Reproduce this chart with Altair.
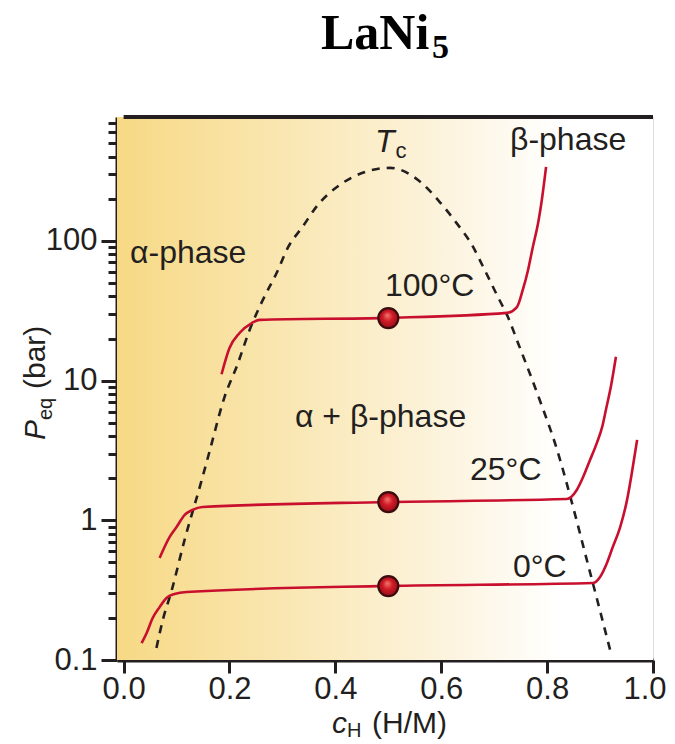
import altair as alt
import pandas as pd

# ---------------- data ----------------
dome_x = [0.062, 0.074, 0.091, 0.115, 0.146, 0.163, 0.19, 0.215, 0.238, 0.263, 0.289,
          0.310, 0.338, 0.367, 0.408, 0.456, 0.503, 0.556, 0.594, 0.629, 0.658, 0.682,
          0.707, 0.726, 0.745, 0.786, 0.819, 0.849, 0.875, 0.902, 0.919]
dome_p = [0.122, 0.193, 0.317, 0.72, 1.85, 3.18, 7.5, 13, 23, 37.8, 58.9,
          89, 126, 181, 251, 311, 333, 273, 196, 134, 93.5, 61.9,
          39.7, 28.5, 18.6, 7.26, 3.18, 1.245, 0.52, 0.21, 0.118]

iso100_x = [0.185, 0.200, 0.219, 0.242, 0.257, 0.497, 0.724, 0.743, 0.754, 0.764,
            0.773, 0.783, 0.790, 0.798]
iso100_p = [11.1, 17.1, 21.9, 25.8, 27.2, 28.1, 30.5, 33.6, 44.5, 61.9,
            90.4, 134, 196, 338]

iso25_x = [0.068, 0.087, 0.100, 0.115, 0.130, 0.149, 0.499, 0.837, 0.856, 0.868,
           0.881, 0.894, 0.904, 0.911, 0.921, 0.930]
iso25_p = [0.537, 0.76, 0.895, 1.09, 1.186, 1.245, 1.352, 1.42, 1.648, 2.04,
           2.70, 3.58, 4.66, 6.16, 9.3, 14.8]

iso0_x = [0.034, 0.0435, 0.055, 0.068, 0.081, 0.096, 0.119, 0.499, 0.887, 0.900,
          0.913, 0.924, 0.938, 0.951, 0.960, 0.970]
iso0_p = [0.132, 0.156, 0.2, 0.239, 0.278, 0.297, 0.307, 0.339, 0.356, 0.393,
          0.495, 0.644, 0.895, 1.40, 2.18, 3.76]

dot_x = [0.5, 0.5, 0.5]
dot_p = [28.0, 1.35, 0.338]

x_ticks = [0.0, 0.2, 0.4, 0.6, 0.8, 1.0]
major_y = [0.1, 1, 10, 100]
y_ticks = [float(f"{m}e{e}") for e in (-1, 0, 1) for m in range(1, 10)] + \
          [float(f"{m}e2") for m in range(1, 8)]

# annotation labels
ann_text = ["α-phase", "β-phase", "100°C", "α + β-phase", "25°C", "0°C"]
ann_x = [0.0121, 0.7299, 0.4938, 0.3237, 0.6543, 0.7355]
ann_y = [69.5, 448, 40.4, 4.66, 1.94, 0.393]

# ---------------- styles ----------------
INK = "#231f20"
RED = "#c8102e"
SANS = "Liberation Sans"
SERIF = "Liberation Serif"
W, H = 536, 543
XDOM = [-0.0125, 1.0]
YDOM = [0.1, 770]

is_major = "indexof([0.1,1,10,100], datum.value) >= 0"
is_last_x = "datum.value == 1"

x_scale = alt.Scale(domain=XDOM, nice=False, zero=False)
y_scale = alt.Scale(type="log", domain=YDOM, nice=False)
x_axis = alt.Axis(values=x_ticks, format=".1f", title=None, grid=False,
                  tickSize=13, tickWidth=3, tickColor=INK, domainWidth=4,
                  domainColor=INK, labelFont=SANS, labelFontSize=31,
                  labelColor=INK, labelPadding=1, labelFlush=False,
                  labelAlign={"condition": {"test": is_last_x, "value": "right"},
                              "value": "center"},
                  labelOffset={"condition": {"test": is_last_x, "value": 13},
                               "value": 0})
y_axis = alt.Axis(values=y_ticks, title=None, grid=False,
                  tickSize={"condition": {"test": is_major, "value": 16}, "value": 9},
                  labelExpr=f"{is_major} ? format(datum.value, '~g') : ''",
                  tickWidth=3, tickColor=INK, domainWidth=4, domainColor=INK,
                  labelFont=SANS, labelFontSize=31, labelColor=INK,
                  labelPadding=4, labelFlush=False)


def X(field):
    return alt.X(field, type="quantitative", scale=x_scale, axis=x_axis)


def Y(field):
    return alt.Y(field, type="quantitative", scale=y_scale, axis=y_axis)


# background gradient
bg_df = pd.DataFrame({"x": [XDOM[0]], "x2": [XDOM[1]], "y": [YDOM[0]], "y2": [YDOM[1]]})
bg = alt.Chart(bg_df).mark_rect(
    fill=alt.Gradient(
        gradient="linear", x1=0, x2=1, y1=0, y2=0,
        stops=[alt.GradientStop(offset=0, color="#f7d985"),
               alt.GradientStop(offset=0.3, color="#f9e6b0"),
               alt.GradientStop(offset=0.6, color="#fcf3dc"),
               alt.GradientStop(offset=0.83, color="#ffffff"),
               alt.GradientStop(offset=1, color="#ffffff")])
).encode(x=X("x"), x2="x2", y=Y("y"), y2="y2")

top_df = pd.DataFrame({"x": [0.0], "x2": [1.0]})
top_rule = alt.Chart(top_df).mark_rule(color=INK, strokeWidth=4).encode(
    x=X("x"), x2="x2", y=alt.value(0))

dome_df = pd.DataFrame({"x": dome_x, "p": dome_p, "i": range(len(dome_x))})
dome = alt.Chart(dome_df).mark_line(
    color=INK, strokeWidth=2.6, strokeDash=[8, 7], interpolate="monotone"
).encode(x=X("x"), y=Y("p"), order="i:Q")

iso_frames = []
for name, xs, ps in (("100", iso100_x, iso100_p), ("25", iso25_x, iso25_p), ("0", iso0_x, iso0_p)):
    iso_frames.append(pd.DataFrame({"x": xs, "p": ps, "T": name, "i": range(len(xs))}))
iso_df = pd.concat(iso_frames, ignore_index=True)
iso = alt.Chart(iso_df).mark_line(
    color=RED, strokeWidth=2.6, interpolate="monotone"
).encode(x=X("x"), y=Y("p"), detail="T:N", order="i:Q")

dot_df = pd.DataFrame({"x": dot_x, "p": dot_p})
dots = alt.Chart(dot_df).mark_point(
    filled=True, size=400, opacity=1, stroke="#3b0b0e", strokeWidth=2.2,
    fill=alt.Gradient(
        gradient="radial", x1=0.45, y1=0.35, r1=0, x2=0.5, y2=0.5, r2=0.55,
        stops=[alt.GradientStop(offset=0, color="#f07a70"),
               alt.GradientStop(offset=0.45, color="#d21a26"),
               alt.GradientStop(offset=1, color="#8e0c14")])
).encode(x=X("x"), y=Y("p"))

ann_df = pd.DataFrame({"x": ann_x, "p": ann_y, "t": ann_text})
ann = alt.Chart(ann_df).mark_text(
    align="left", baseline="alphabetic", font=SANS, fontSize=32, color=INK
).encode(x=X("x"), y=Y("p"), text="t:N")

tc_df = pd.DataFrame({"x": [0.4749], "p": [433], "t": ["T"]})
tc = alt.Chart(tc_df).mark_text(
    align="left", baseline="alphabetic", font=SANS, fontSize=32,
    fontStyle="italic", color=INK
).encode(x=X("x"), y=Y("p"), text="t:N")
tc_sub_df = pd.DataFrame({"x": [0.5135], "p": [392], "t": ["c"]})
tc_sub = alt.Chart(tc_sub_df).mark_text(
    align="left", baseline="alphabetic", font=SANS, fontSize=22, color=INK
).encode(x=X("x"), y=Y("p"), text="t:N")


def label(text, x, y, size, font=SANS, style="normal", weight="normal", angle=0):
    return alt.Chart(pd.DataFrame({"t": [text]})).mark_text(
        align="left", baseline="alphabetic", font=font, fontSize=size,
        fontStyle=style, fontWeight=weight, color="#000000" if font == SERIF else INK,
        angle=angle
    ).encode(x=alt.value(x), y=alt.value(y), text="t:N")


title_main = label("LaNi", 204, -68, 50, font=SERIF, weight="bold")
title_sub = label("5", 315, -59, 34, font=SERIF, weight="bold")

xt1 = label("c", 215, 616, 30, style="italic")
xt2 = label("H", 230, 620, 20)
xt3 = label("(H/M)", 255, 616, 30)

yt1 = label("P", -72, 323, 30, style="italic", angle=270)
yt2 = label("eq", -65, 303, 20, angle=270)
yt3 = label("(bar)", -72, 272, 30, angle=270)

chart = alt.layer(
    bg, dome, iso, dots, ann, tc, tc_sub, top_rule,
    title_main, title_sub, xt1, xt2, xt3, yt1, yt2, yt3
).properties(
    width=W, height=H,
    autosize=alt.AutoSizeParams(type="none"),
    padding={"left": 109, "top": 109, "right": 14, "bottom": 80},
).configure_view(stroke=None).configure(background="white")

chart.save("out.html", embed_options={"renderer": "svg", "actions": False})
